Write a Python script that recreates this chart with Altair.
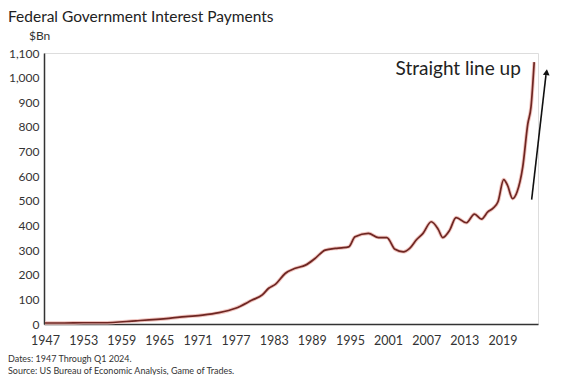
import altair as alt
import pandas as pd

# Federal government interest payments, $Bn
years = [1947.0, 1950.0, 1953.0, 1956.1, 1961.3, 1966.5, 1969.1, 1971.8, 1974.4, 1977.0,
         1979.6, 1981.2, 1982.2, 1983.3, 1984.8, 1986.4, 1988.0, 1989.5, 1991.1, 1992.7,
         1993.7, 1994.8, 1995.8, 1997.9, 1999.5, 2000.8, 2002.1, 2003.4, 2004.4, 2005.5,
         2006.5, 2007.8, 2008.9, 2009.6, 2010.7, 2011.7, 2013.3, 2014.6, 2015.7, 2016.7,
         2017.5, 2018.3, 2019.2, 2019.8, 2020.6, 2021.3, 2022.2, 2023.0, 2023.5, 2024.0]
values = [4, 4, 5, 5, 13, 23, 30, 36, 46, 64,
          97, 118, 145, 162, 205, 226, 239, 266, 300, 307,
          309, 313, 354, 368, 351, 351, 303, 293, 307, 343,
          368, 415, 384, 351, 381, 432, 411, 446, 426, 455,
          469, 496, 586, 563, 509, 536, 638, 813, 881, 1063]

x_ticks = [1947, 1953, 1959, 1965, 1971, 1977, 1983, 1989, 1995, 2001, 2007, 2013, 2019]
y_ticks = [0, 100, 200, 300, 400, 500, 600, 700, 800, 900, 1000, 1100]

title_text = "Federal Government Interest Payments"
unit_text = "$Bn"
note_1 = "Dates: 1947 Through Q1 2024."
note_2 = "Source: US Bureau of Economic Analysis, Game of Trades."
annot_text = ["Straight line up"]
annot_year = [2021.9]
annot_value = [1009]
arrow_year = [2023.6, 2025.85]
arrow_value = [505, 1010]
arrow_tip_year = [2025.95]
arrow_tip_value = [1022]

df = pd.DataFrame({"year": years, "value": values})

FONT = "Lato"
xscale = alt.Scale(domain=[1946.84, 2024.6], nice=False, zero=False)
yscale = alt.Scale(domain=[0, 1100], nice=False)

xaxis = alt.Axis(values=x_ticks, format="d", title=None, grid=False, ticks=False,
                 labelFont=FONT, labelFontSize=12.5, labelColor="#333333",
                 labelPadding=10, domainColor="#333333", domainWidth=1.5,
                 labelFlush=False, labelOverlap=False)
yaxis = alt.Axis(values=y_ticks, format=",d", title=None, grid=False, ticks=False,
                 labelFont=FONT, labelFontSize=12, labelColor="#333333",
                 labelPadding=5, domainColor="#333333", domainWidth=1.5,
                 labelOverlap=False, labelFlush=False)

X = alt.X("year:Q", scale=xscale, axis=xaxis)
Y = alt.Y("value:Q", scale=yscale, axis=yaxis)

base = alt.Chart(df)
halo = base.mark_line(color="#f0c4bf", strokeWidth=3.6, interpolate="monotone").encode(x=X, y=Y)
core = base.mark_line(color="#6e2622", strokeWidth=1.7, interpolate="monotone").encode(x=X, y=Y)

arrow_df = pd.DataFrame({"year": arrow_year, "value": arrow_value})
arrow = alt.Chart(arrow_df).mark_line(color="#111111", strokeWidth=1.6, clip=False).encode(x=X, y=Y)
tip = alt.Chart(pd.DataFrame({"year": arrow_tip_year, "value": arrow_tip_value})).mark_point(
    shape="triangle-up", filled=True, color="#111111", size=45, angle=7, opacity=1, clip=False
).encode(x=X, y=Y)

annot = alt.Chart(pd.DataFrame({"t": annot_text, "year": annot_year, "value": annot_value})).mark_text(
    align="right", baseline="alphabetic", font=FONT, fontSize=19, color="#222222"
).encode(x=X, y=Y, text="t:N")

def label(txt, x, y, size, color="#333333", baseline="middle"):
    return alt.Chart(pd.DataFrame({"t": [txt]})).mark_text(
        align="left", baseline=baseline, font=FONT, fontSize=size, color=color
    ).encode(x=alt.value(x), y=alt.value(y), text="t:N")

title = label(title_text, -36, -31, 15.5, "#222222", "alphabetic")
unit = label(unit_text, -15, -17, 12)
n1 = label(note_1, -36, 306, 9)
n2 = label(note_2, -36, 317.5, 9)

chart = alt.layer(halo, core, arrow, tip, annot, title, unit, n1, n2).properties(
    width=494, height=271,
    autosize=alt.AutoSizeParams(type="none"),
    padding={"left": 36, "top": 45, "right": 16, "bottom": 51},
).configure_view(stroke=None).configure(background="white")

chart.save("out.html", embed_options={"renderer": "svg", "actions": False})
